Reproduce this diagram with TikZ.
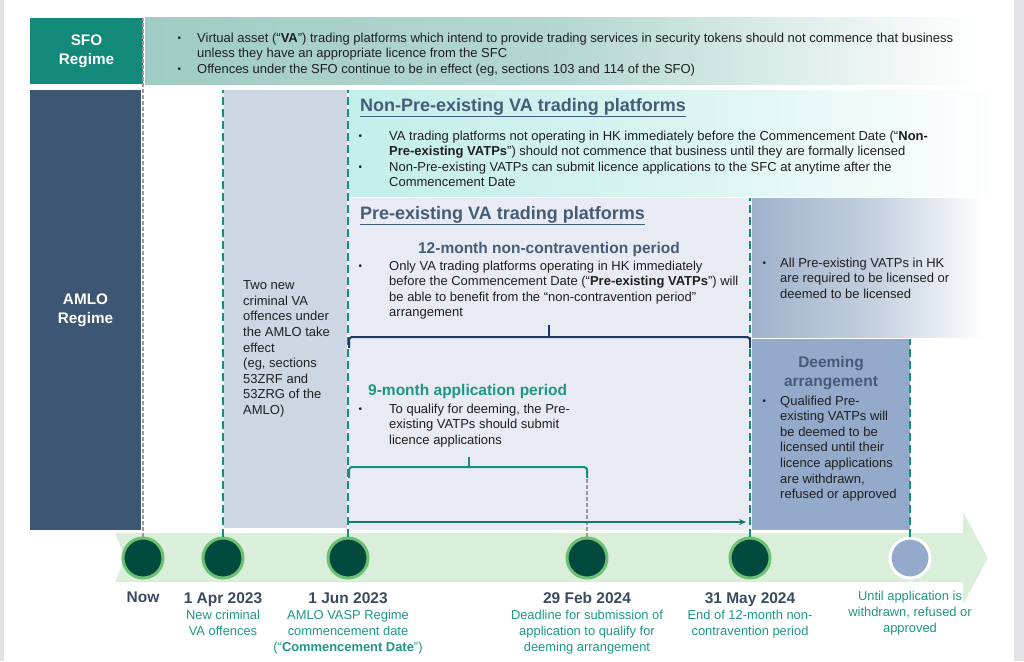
\documentclass[tikz,border=0pt]{standalone}
\usepackage{fontspec}
\setmainfont{Liberation Sans}
\usepackage{tikz}
\usetikzlibrary{arrows.meta,positioning}
\definecolor{sfoteal}{HTML}{13897A}
\definecolor{sfoband}{HTML}{9FCCC4}
\definecolor{amloblue}{HTML}{3C5674}
\definecolor{offgray}{HTML}{CDD7E3}
\definecolor{nonprecyan}{HTML}{C3EEE9}
\definecolor{prebg}{HTML}{E8EBF3}
\definecolor{allpreblue}{HTML}{9FB2CB}
\definecolor{deemblue}{HTML}{94AACA}
\definecolor{navybr}{HTML}{1D3866}
\definecolor{headslate}{HTML}{455C78}
\definecolor{tealtxt}{HTML}{1D9784}
\definecolor{dashteal}{HTML}{168E7E}
\definecolor{dashgray}{HTML}{9A9A9A}
\definecolor{dkgreen}{HTML}{02493E}
\definecolor{ringgreen}{HTML}{6DBF72}
\definecolor{bandgreen}{HTML}{D9EFD9}
\definecolor{datecol}{HTML}{3A4A5E}
\definecolor{framegray}{HTML}{E3E3E5}
\pgfdeclarehorizontalshading{sfofade}{100bp}{color(0bp)=(sfoband); color(25bp)=(sfoband); color(50bp)=(sfoband!78!white); color(75bp)=(white); color(100bp)=(white)}
\pgfdeclarehorizontalshading{cyanfade}{100bp}{color(0bp)=(nonprecyan); color(25bp)=(nonprecyan); color(50bp)=(nonprecyan!65!white); color(75bp)=(white); color(100bp)=(white)}
\pgfdeclarehorizontalshading{bluefade}{100bp}{color(0bp)=(allpreblue); color(25bp)=(allpreblue); color(52bp)=(allpreblue!60!white); color(75bp)=(white); color(100bp)=(white)}
\newcommand\bul[1][16]{\llap{\raisebox{0.5pt}{\fontsize{10}{10}\selectfont •}\hspace{#1pt}}}
\newcommand\datefont{\fontsize{15.5}{16}\selectfont\bfseries\color{datecol}}

\begin{document}
\begin{tikzpicture}[x=1pt,y=-1pt,
  box/.style={rectangle,anchor=north west,inner sep=0pt,outer sep=0pt},
  regime/.style={box,text=white,align=center,font=\fontsize{15.3}{19}\selectfont\bfseries},
  body/.style={anchor=north west,align=left,inner sep=0pt,text=black!88,font=\fontsize{13}{15.6}\selectfont},
  heading/.style={anchor=north west,inner sep=0pt,text=headslate,font=\fontsize{18}{20}\selectfont\bfseries},
  subhead/.style={inner sep=0pt,font=\fontsize{15.5}{19}\selectfont\bfseries},
  tldash/.style={dashteal,line width=2.2pt,dash pattern=on 8pt off 4pt},
  grdash/.style={dashgray,line width=2.4pt,dash pattern=on 4pt off 2pt},
  milestone/.style={circle,fill=dkgreen,draw=ringgreen,line width=3pt,minimum size=40pt,inner sep=0pt},
  datelbl/.style={anchor=north,align=center,inner sep=0pt,text=tealtxt,font=\fontsize{12.9}{16}\selectfont}]
\useasboundingbox (0,0) rectangle (1024,661);
\fill[framegray] (0,0) rectangle (4,661);
\fill[framegray] (1014,0) rectangle (1024,661);

% regime boxes
\node[regime,fill=sfoteal,minimum width=113pt,minimum height=66pt] (sfo) at (30,18) {SFO\\Regime};
\node[box,shading=sfofade,minimum width=835pt,minimum height=66pt] (sfoband) at (145,18) {};
\node[regime,fill=amloblue,minimum width=111pt,minimum height=440pt] (amlo) at (30,90) {AMLO\\Regime};

% period boxes
\node[box,fill=offgray,minimum width=123pt,minimum height=438pt] (offbox) at (224,90) {};
\node[box,shading=cyanfade,minimum width=651pt,minimum height=106pt] (nonpre) at (349,90) {};
\node[box,fill=prebg,minimum width=401pt,minimum height=332pt] (pre) at (349,198) {};
\node[box,shading=bluefade,minimum width=232pt,minimum height=139pt] (allpre) at (752,198) {};
\node[box,fill=deemblue,minimum width=158pt,minimum height=191pt] (deem) at (752,339) {};

% timeline band
\fill[bandgreen] (115,533) -- (963,533) -- (963,512) -- (988,558) -- (963,604) -- (963,582)
  -- (115,582) -- (125,558) -- cycle;

% milestones
\node[milestone] (now) at (143,558) {};
\node[milestone] (apr) at (223,558) {};
\node[milestone] (jun) at (348,558) {};
\node[milestone] (feb) at (587,558) {};
\node[milestone] (may) at (750,558) {};
\node[milestone,fill=deemblue,draw=white] (until) at (910,558) {};

% dashed markers
\draw[grdash] (now.north) -- (now |- sfo.north);
\draw[tldash] (apr.north) -- (apr |- offbox.north);
\draw[tldash] (jun.north) -- (jun |- offbox.north);
\draw[tldash] (may.north) -- (may |- pre.north);
\draw[tldash] (until.north) -- (until |- deem.north);
\draw[grdash] (feb.north) -- (feb |- 0,468);

% brackets and arrow
\draw[navybr,line width=2pt,rounded corners=3pt] (pre.west |- 0,348) |- (may |- 0,337) -- (may |- 0,348);
\draw[navybr,line width=2pt] (549,337) -- (549,325);
\draw[dashteal,line width=2pt,rounded corners=3pt] (pre.west |- 0,478) |- (feb |- 0,467) -- (feb |- 0,478);
\draw[dashteal,line width=2pt] (469,467) -- (469,457);
\draw[-{Stealth[length=7pt,width=6pt]},dashteal!85!black,line width=2.2pt] (pre.west |- 0,522) -- (746,522);

% texts
\node[body] (sfotxt) at (197,32.5) {\bul Virtual asset (“\textbf{VA}”) trading platforms which intend to provide trading services in security tokens should not commence that business\\
unless they have an appropriate licence from the SFC\\
\bul Offences under the SFO continue to be in effect (eg, sections 103 and 114 of the SFO)};
\node[heading] (nonhead) at (360,98) {\underline{Non-Pre-existing VA trading platforms}};
\node[body] (nontxt) at (389,130.5) {\bul[27]VA trading platforms not operating in HK immediately before the Commencement Date (“\textbf{Non-}\\
\textbf{Pre-existing VATPs}”) should not commence that business until they are formally licensed\\
\bul[27]Non-Pre-existing VATPs can submit licence applications to the SFC at anytime after the\\
Commencement Date};
\node[body] (offtxt) at (243,280.5) {Two new\\criminal VA\\offences under\\the AMLO take\\effect\\(eg, sections\\53ZRF and\\53ZRG of the\\AMLO)};
\node[heading] (prehead) at (360,206) {\underline{Pre-existing VA trading platforms}};
\node[subhead,text=headslate] (ncphead) at (549,249) {12-month non-contravention period};
\node[body] (ncptxt) at (389,260.5) {\bul[27]Only VA trading platforms operating in HK immediately\\
before the Commencement Date (“\textbf{Pre-existing VATPs}”) will\\
be able to benefit from the “non-contravention period”\\
arrangement};
\node[subhead,anchor=west,text=tealtxt] (apphead) at (368,391) {9-month application period};
\node[body] (apptxt) at (389,403.5) {\bul[27]To qualify for deeming, the Pre-\\existing VATPs should submit\\licence applications};
\node[body] (allpretxt) at (780,257.5) {\bul[14]All Pre-existing VATPs in HK\\are required to be licensed or\\deemed to be licensed};
\node[subhead,align=center,text=headslate] (deemhead) at (831,373) {Deeming\\arrangement};
\node[body] (deemtxt) at (780,395.5) {\bul[14]Qualified Pre-\\existing VATPs will\\be deemed to be\\licensed until their\\licence applications\\are withdrawn,\\refused or approved};

% timeline labels
\node[datelbl] (nowlbl) at (now |- 0,592) {{\datefont Now}};
\node[datelbl] (aprlbl) at (apr |- 0,592) {{\datefont 1 Apr 2023}\\New criminal\\VA offences};
\node[datelbl] (junlbl) at (jun |- 0,592) {{\datefont 1 Jun 2023}\\AMLO VASP Regime\\commencement date\\(“\textbf{Commencement Date}”)};
\node[datelbl] (feblbl) at (feb |- 0,592) {{\datefont 29 Feb 2024}\\Deadline for submission of\\application to qualify for\\deeming arrangement};
\node[datelbl] (maylbl) at (may |- 0,592) {{\datefont 31 May 2024}\\End of 12-month non-\\contravention period};
\node[datelbl] (untillbl) at (until |- 0,591) {Until application is\\withdrawn, refused or\\approved};
\end{tikzpicture}
\end{document}
